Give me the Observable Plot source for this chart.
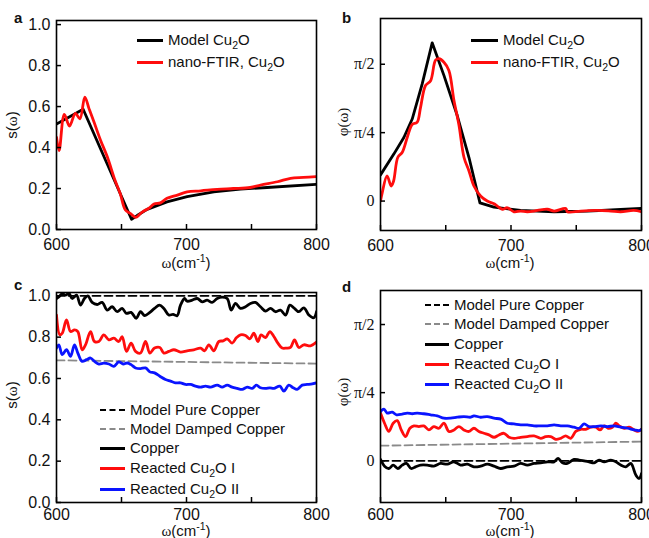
<!DOCTYPE html>
<html><head><meta charset="utf-8">
<script src="https://cdn.jsdelivr.net/npm/d3@7"></script>
<script src="https://cdn.jsdelivr.net/npm/@observablehq/plot@0.6"></script>
<style>
body{margin:0;background:#fff;}
#root{position:relative;width:649px;height:538px;overflow:hidden;font-family:"Liberation Sans",Arial,sans-serif;color:#111;}
.abs{position:absolute;white-space:nowrap;}
.letter{font-weight:bold;font-size:15px;line-height:15px;}
.ctr{transform:translate(-50%,-50%);font-size:15px;line-height:16px;}
.rot{transform:translate(-50%,-50%) rotate(-90deg);font-size:15px;line-height:18px;}
.serif{font-family:"Liberation Serif","Times New Roman",serif;}
.leg{display:flex;align-items:center;height:18px;font-size:15px;line-height:18px;}
.sw{display:inline-block;height:0;margin-right:5px;}
sub,sup{font-size:70%;line-height:0;}
</style>
</head><body><div id="root"></div>
<script>
// ---------- axis ticks ----------
const xTickValues = [600, 650, 700, 750, 800];
const xTickLabels = ["600", "", "700", "", "800"];
const ampTickValues = [0, 0.2, 0.4, 0.6, 0.8, 1.0];
const ampTickLabels = ["0.0", "0.2", "0.4", "0.6", "0.8", "1.0"];
const phaseTickValues = [0, 0.785398, 1.570796];
const phaseTickLabels = ["0", "π/4", "π/2"];

// ---------- panel a: amplitude, Cu2O ----------
const aModel = [[600,0.515],[620.5,0.587],[657.7,0.05],[662,0.068],[669.7,0.098],[685,0.135],[700.5,0.16],[721,0.184],[741.5,0.197],[762,0.205],[800,0.22]];
const aNano = [[600,0.45],[602,0.385],[606,0.562],[610,0.505],[614.5,0.567],[618,0.54],[621.8,0.646],[625,0.59],[628.7,0.527],[633.8,0.437],[639,0.356],[645,0.24],[649,0.176],[653,0.095],[657,0.078],[661,0.059],[664.6,0.078],[667,0.09],[671,0.103],[675,0.124],[680,0.13],[685,0.152],[693,0.168],[700.5,0.184],[711,0.189],[723.6,0.196],[736,0.2],[749,0.205],[757,0.217],[770,0.233],[780,0.25],[790,0.254],[800,0.258]];

// ---------- panel b: phase (rad), Cu2O ----------
const bModel = [[600,0.300],[610.2,0.539],[617.9,0.730],[624.3,0.942],[632,1.348],[639.6,1.817],[648.6,1.443],[658.8,0.982],[667.8,0.500],[676.2,-0.020],[686.9,-0.069],[707.4,-0.108],[733,-0.123],[758.6,-0.115],[784,-0.097],[800,-0.085]];
const bNano = [[600,0],[601.3,0.094],[605,0.29],[608.2,0.173],[610,0.228],[613.3,0.503],[616.6,0.558],[620.5,0.730],[624.3,0.880],[628,0.903],[630.7,1.076],[634.5,1.327],[638.4,1.382],[642.2,1.618],[644.8,1.634],[648.6,1.594],[652.4,1.500],[656.3,1.155],[660.1,0.872],[664,0.500],[667.8,0.346],[671.6,0.173],[676.7,0.058],[681.8,0],[687,-0.031],[689.5,-0.058],[693.4,-0.094],[697.2,-0.077],[702.3,-0.123],[707.4,-0.115],[712.5,-0.123],[720.2,-0.108],[727.9,-0.094],[733,-0.115],[742,-0.085],[743.2,-0.123],[753.5,-0.115],[766,-0.108],[776.5,-0.115],[784,-0.123],[794,-0.108],[800,-0.123]];

// ---------- panel c: amplitude, copper ----------
const cModelPure = [[600,1.0],[800,1.0]];
const cModelDamped = [[600,0.688],[800,0.672]];
const cCopper = [[600,0.987],[601.8,0.995],[604.4,1.01],[606.9,1.003],[609.5,1.012],[612.1,0.987],[615.4,1.003],[618.5,0.955],[621.5,0.987],[624.1,1.0],[627.4,0.968],[631.3,0.958],[635.1,0.968],[639,0.931],[642.8,0.947],[646.7,0.923],[650.5,0.939],[653.8,0.915],[657.4,0.92],[661.3,0.891],[664.6,0.923],[667.9,0.904],[671.8,0.92],[675.4,0.939],[679.2,0.955],[682.6,0.939],[686.4,0.907],[689.7,0.91],[692.8,0.904],[695.4,0.955],[698.5,0.987],[700.5,0.974],[704.4,0.979],[708.2,0.987],[712.1,0.971],[715.9,0.979],[719.7,0.968],[723.6,0.987],[727.4,0.994],[731.3,0.987],[734.4,0.931],[737.7,0.963],[741.5,0.939],[745.4,0.947],[749.2,0.963],[753.1,0.968],[756.9,0.947],[760.8,0.926],[764.6,0.939],[768.5,0.923],[772.3,0.931],[776.2,0.907],[779.5,0.955],[782.6,0.942],[786.4,0.923],[790.3,0.942],[794.1,0.907],[797.9,0.894],[800,0.923]];
const cReactedI = [[600,0.907],[602.6,0.811],[604.4,0.819],[607.7,0.883],[610.8,0.827],[613.8,0.835],[616.4,0.827],[619.7,0.739],[622.3,0.763],[626.2,0.827],[629.2,0.779],[632.6,0.779],[636.4,0.811],[640.3,0.787],[644.1,0.795],[647.9,0.779],[650.5,0.803],[653.8,0.731],[657.4,0.771],[660.8,0.731],[664.6,0.723],[668.5,0.779],[671.8,0.723],[675.4,0.747],[679.5,0.75],[682.6,0.723],[686.4,0.731],[690.3,0.739],[695.4,0.728],[700.5,0.734],[705.6,0.739],[710.8,0.747],[713.8,0.734],[717.2,0.763],[721,0.734],[724.9,0.779],[728.2,0.782],[731.3,0.792],[735.1,0.771],[738.5,0.798],[741.5,0.811],[745.4,0.808],[748.7,0.792],[751.8,0.819],[754.9,0.779],[757.4,0.811],[760.8,0.798],[764.1,0.827],[767.2,0.803],[770.3,0.771],[773.6,0.747],[776.9,0.747],[780,0.75],[783.1,0.787],[786.4,0.75],[790.3,0.763],[795.4,0.758],[800,0.776]];
const cReactedII = [[600,0.747],[601.8,0.763],[604.4,0.715],[607.7,0.739],[610.8,0.707],[613.8,0.763],[616.4,0.723],[619.7,0.683],[623.1,0.691],[626.2,0.699],[629.2,0.683],[632.6,0.67],[636.4,0.674],[640.3,0.67],[644.1,0.659],[647.9,0.68],[651.3,0.67],[654.4,0.675],[657.4,0.667],[660.8,0.651],[664.6,0.648],[668.5,0.651],[671.8,0.632],[675.4,0.627],[679.5,0.611],[683.8,0.595],[687.7,0.587],[691.5,0.579],[695.4,0.579],[699.2,0.571],[703.1,0.571],[706.9,0.563],[710.8,0.558],[714.6,0.563],[718.5,0.558],[723.6,0.568],[727.4,0.558],[731.3,0.568],[735.1,0.558],[739,0.552],[742.8,0.547],[746.7,0.558],[750.5,0.552],[753.8,0.568],[756.9,0.555],[760.8,0.552],[764.1,0.555],[767.2,0.552],[771.8,0.563],[774.9,0.539],[778.7,0.568],[782.1,0.555],[785.1,0.547],[789,0.568],[792.8,0.571],[796.7,0.574],[800,0.579]];

// ---------- panel d: phase (rad), copper ----------
const dModelPure = [[600,0],[800,0]];
const dModelDamped = [[600,0.174],[800,0.221]];
const dCopper = [[600,0.016],[603.1,-0.062],[606.4,-0.089],[609.7,-0.05],[613.3,-0.089],[616.6,-0.05],[619.9,-0.031],[623.5,-0.089],[626.9,-0.07],[630.7,-0.05],[635.8,-0.05],[640.9,-0.062],[646,-0.031],[651.2,-0.038],[656.3,-0.012],[661.4,-0.05],[666.5,-0.038],[671.6,-0.07],[676.7,-0.062],[681.8,-0.038],[687,-0.062],[692.1,-0.089],[697.2,-0.07],[702.3,-0.062],[707.4,-0.031],[712.5,-0.05],[717.6,-0.031],[722.8,-0.024],[727.9,-0.012],[733,-0.012],[736.1,0.027],[739.4,-0.024],[743.2,-0.031],[748.3,0.016],[752.2,0.008],[756,0],[759.8,-0.012],[763.7,-0.024],[767.5,0.008],[771.4,-0.012],[776.5,0.008],[780.3,-0.012],[784.1,-0.05],[788,-0.07],[791.8,-0.031],[795.7,-0.165],[798.2,-0.204],[800,-0.149]];
const dReactedI = [[600,0.55],[603.1,0.433],[606.4,0.338],[609.7,0.433],[612.8,0.463],[615.9,0.356],[619.2,0.279],[622.5,0.375],[625.6,0.402],[629.4,0.394],[633.2,0.402],[637.1,0.356],[640.9,0.394],[644.8,0.375],[648.6,0.433],[652.4,0.338],[656.3,0.356],[660.1,0.394],[663.9,0.356],[667.8,0.338],[671.6,0.375],[675.4,0.338],[679.3,0.317],[683.1,0.298],[687,0.271],[690.8,0.298],[694.6,0.317],[698.5,0.271],[702.3,0.259],[707.4,0.271],[712.5,0.279],[717.6,0.287],[722.8,0.259],[726.6,0.279],[730.4,0.279],[734.3,0.247],[738.1,0.259],[741.9,0.287],[745.8,0.259],[749.6,0.338],[753.5,0.363],[757.3,0.363],[761.1,0.387],[765,0.387],[768.3,0.356],[771.4,0.402],[774.4,0.375],[777.7,0.387],[780.3,0.433],[782.9,0.402],[786.7,0.375],[790.5,0.387],[794.4,0.356],[796.9,0.338],[800,0.363]];
const dReactedII = [[600,0.568],[602.6,0.596],[605.1,0.55],[609,0.56],[612.3,0.53],[616.6,0.538],[620.5,0.55],[624.3,0.542],[628.1,0.55],[633.2,0.542],[638.4,0.53],[643.5,0.518],[648.6,0.491],[653.7,0.491],[658.8,0.502],[663.9,0.51],[669.1,0.502],[671.6,0.518],[676.7,0.502],[681.8,0.51],[687,0.491],[692.1,0.48],[697.2,0.433],[702.3,0.425],[707.4,0.414],[712.5,0.414],[717.6,0.402],[722.8,0.402],[727.9,0.402],[733,0.414],[738.1,0.402],[743.2,0.402],[748.3,0.387],[752.2,0.375],[756,0.425],[759.8,0.394],[763.7,0.394],[768.8,0.402],[773.9,0.394],[779,0.402],[784.1,0.387],[789.3,0.375],[794.4,0.356],[798.2,0.348],[800,0.363]];

const RED = "#ff0d0d", BLUE = "#0a14ff", BLACK = "#000", GRAY = "#8a8a8a";
const root = document.getElementById("root");
const xLabelledTicks = xTickValues.filter((v, i) => xTickLabels[i] !== "");

function makePanel(cfg) {
  const plotW = cfg.width - cfg.ml - cfg.mr;
  const plotH = cfg.height - cfg.mt - cfg.mb;
  const marks = cfg.series.map(s => Plot.line(s.data, {
    x: d => d[0], y: d => d[1], stroke: s.color, strokeWidth: s.w,
    strokeDasharray: s.dash, curve: s.curve || "linear", clip: true
  }));
  // inward tick marks
  marks.push(Plot.tickX(xTickValues, {x: d => d, insetTop: plotH - 5, stroke: "#000", strokeWidth: 1.5}));
  marks.push(Plot.tickY(cfg.yTicks, {y: d => d, insetRight: plotW - 5, stroke: "#000", strokeWidth: 1.5}));
  marks.push(Plot.frame({stroke: "#000", strokeWidth: 1.6}));
  marks.push(Plot.axisX({ticks: xLabelledTicks, tickFormat: d => xTickLabels[xTickValues.indexOf(d)],
    tickSize: 0, tickPadding: cfg.xPad, label: null, fontSize: 16}));
  marks.push(Plot.axisY({ticks: cfg.yTicks, tickFormat: d => cfg.yLabels[cfg.yTicks.indexOf(d)],
    tickSize: 0, tickPadding: 6, label: null, fontSize: 16,
    fontFamily: cfg.serif ? "Liberation Serif, Times New Roman, serif" : "Liberation Sans, Arial, sans-serif"}));
  const svg = Plot.plot({
    width: cfg.width, height: cfg.height,
    marginTop: cfg.mt, marginBottom: cfg.mb, marginLeft: cfg.ml, marginRight: cfg.mr,
    style: {fontFamily: "Liberation Sans, Arial, sans-serif", fontSize: "16px", color: "#111", background: "transparent", overflow: "visible"},
    x: {domain: [600, 800]},
    y: {domain: cfg.yDomain},
    marks
  });
  svg.style.position = "absolute";
  svg.style.left = cfg.left + "px";
  svg.style.top = cfg.top + "px";
  root.appendChild(svg);
}

makePanel({left: 0, top: 0, width: 324, height: 265, mt: 20, mb: 36, ml: 56, mr: 8, xPad: 9,
  yDomain: [0, 1.02], yTicks: ampTickValues, yLabels: ampTickLabels, serif: false,
  series: [
    {data: aModel, color: BLACK, w: 2.8},
    {data: aNano, color: RED, w: 2.8, curve: "catmull-rom"}
  ]});
makePanel({left: 324, top: 0, width: 325, height: 265, mt: 18, mb: 35, ml: 56, mr: 8, xPad: 9,
  yDomain: [-0.338, 2.096], yTicks: phaseTickValues, yLabels: phaseTickLabels, serif: true,
  series: [
    {data: bModel, color: BLACK, w: 2.8},
    {data: bNano, color: RED, w: 2.8, curve: "catmull-rom"}
  ]});
makePanel({left: 0, top: 265, width: 324, height: 273, mt: 27, mb: 36, ml: 56, mr: 8, xPad: 6,
  yDomain: [0, 1.016], yTicks: ampTickValues, yLabels: ampTickLabels, serif: false,
  series: [
    {data: cModelPure, color: BLACK, w: 1.8, dash: "8,4"},
    {data: cModelDamped, color: GRAY, w: 1.8, dash: "8,4"},
    {data: cCopper, color: BLACK, w: 2.8, curve: "catmull-rom"},
    {data: cReactedI, color: RED, w: 2.8, curve: "catmull-rom"},
    {data: cReactedII, color: BLUE, w: 2.8, curve: "catmull-rom"}
  ]});
makePanel({left: 324, top: 265, width: 325, height: 273, mt: 25, mb: 36, ml: 56, mr: 8, xPad: 6,
  yDomain: [-0.481, 1.963], yTicks: phaseTickValues, yLabels: phaseTickLabels, serif: true,
  series: [
    {data: dModelPure, color: BLACK, w: 1.8, dash: "8,4"},
    {data: dModelDamped, color: GRAY, w: 1.8, dash: "8,4"},
    {data: dCopper, color: BLACK, w: 2.8, curve: "catmull-rom"},
    {data: dReactedI, color: RED, w: 2.8, curve: "catmull-rom"},
    {data: dReactedII, color: BLUE, w: 2.8, curve: "catmull-rom"}
  ]});

// ---------- text overlays ----------
function addDiv(cls, html, left, top) {
  const d = document.createElement("div");
  d.className = "abs " + cls;
  d.innerHTML = html;
  d.style.left = left + "px";
  d.style.top = top + "px";
  root.appendChild(d);
}
const panelLetters = [["a", 14, 10], ["b", 342, 10], ["c", 14, 277], ["d", 342, 279]];
panelLetters.forEach(([t, x, y]) => addDiv("letter", t, x, y));

const xLabel = '<span class="serif">ω</span>(cm<sup>-1</sup>)';
addDiv("ctr", xLabel, 186, 263);
addDiv("ctr", xLabel, 510, 263);
addDiv("ctr", xLabel, 186, 531);
addDiv("ctr", xLabel, 510, 531);
addDiv("rot", 's(<span class="serif">ω</span>)', 12, 125);
addDiv("rot", 's(<span class="serif">ω</span>)', 12, 395);
addDiv("rot", '<span class="serif">φ(ω)</span>', 343, 122);
addDiv("rot", '<span class="serif">φ(ω)</span>', 343, 392);

function legend(items, left, rowCenters, swLen) {
  items.forEach((it, i) => {
    const border = it.dash ? `2px dashed ${it.color}` : `3px solid ${it.color}`;
    addDiv("leg", `<span class="sw" style="width:${swLen}px;border-top:${border}"></span><span>${it.label}</span>`, left, rowCenters[i] - 9);
  });
}
const cu2oLegend = [
  {label: "Model Cu<sub>2</sub>O", color: BLACK},
  {label: "nano-FTIR, Cu<sub>2</sub>O", color: RED}
];
const copperLegend = [
  {label: "Model Pure Copper", color: BLACK, dash: true},
  {label: "Model Damped Copper", color: GRAY, dash: true},
  {label: "Copper", color: BLACK},
  {label: "Reacted Cu<sub>2</sub>O I", color: RED},
  {label: "Reacted Cu<sub>2</sub>O II", color: BLUE}
];
legend(cu2oLegend, 137, [40, 62], 26);
legend(cu2oLegend, 471, [40, 62], 27);
legend(copperLegend, 100, [410, 429, 448, 468, 489], 25);
legend(copperLegend, 425, [305, 324, 344, 364, 384], 24);
</script>
</body></html>
